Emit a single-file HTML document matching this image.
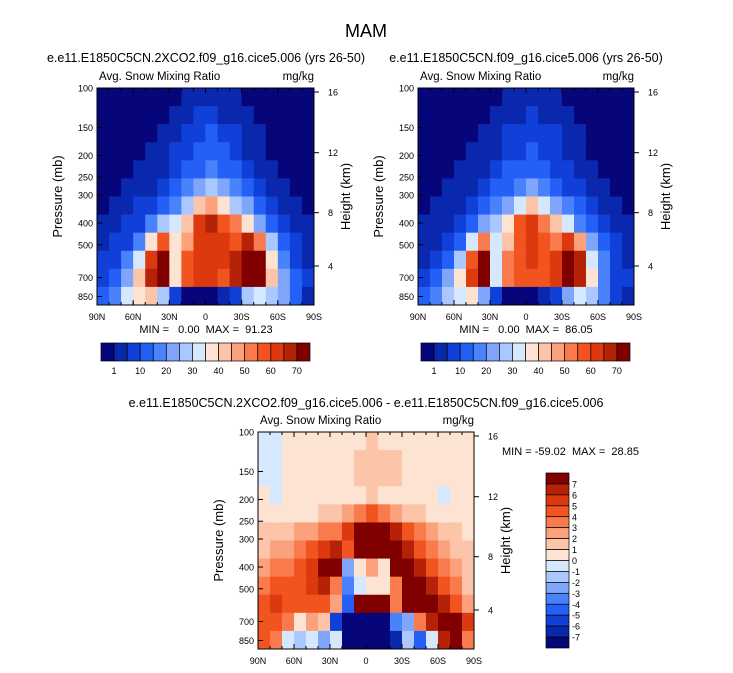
<!DOCTYPE html>
<html><head><meta charset="utf-8">
<style>
html,body{margin:0;padding:0;background:#fff;}
svg{display:block;font-family:"Liberation Sans",Arial,sans-serif;}
.pre{white-space:pre;}
</style></head>
<body>
<svg id="fig" width="733" height="673" viewBox="0 0 733 673" xmlns="http://www.w3.org/2000/svg">
<text x="366" y="37" text-anchor="middle" font-size="18">MAM</text>
<text x="206" y="62" text-anchor="middle" font-size="12.5">e.e11.E1850C5CN.2XCO2.f09_g16.cice5.006 (yrs 26-50)</text>
<text x="526" y="62" text-anchor="middle" font-size="12.5">e.e11.E1850C5CN.f09_g16.cice5.006 (yrs 26-50)</text>
<text x="366" y="407" text-anchor="middle" font-size="12.5">e.e11.E1850C5CN.2XCO2.f09_g16.cice5.006 - e.e11.E1850C5CN.f09_g16.cice5.006</text>
<g id="panels"></g>
</svg>
<script>
// ---- data ----
const latLabels = ["90N","60N","30N","0","30S","60S","90S"];
const pressureTicks = [100,150,200,250,300,400,500,700,850];
const heightTicks = [16,12,8,4];
const heightTickY = [92,152.7,212.7,266];
const topLevels = [1,5,10,15,20,25,30,35,40,45,50,55,60,65,70];
const topLevelLabels = ["1","10","20","30","40","50","60","70"];
const diffLevels = [7,6,5,4,3,2,1,0,-1,-2,-3,-4,-5,-6,-7];
const colors = ["#06067a","#0a28ad","#1040d8","#2460f8","#4a82fb","#7fa6fb","#aac8fd","#d6e8fd","#fde4d2","#fcc4a8","#fba27c","#f97a4c","#f2541f","#dc3a0e","#b52208","#800000"];
const leftData = [
[0.5,0.5,0.5,0.5,0.5,0.5,0.5,1.5,2,2,2,1.5,0.5,0.5,0.5,0.5,0.5,0.5],
[0.5,0.5,0.5,0.5,0.5,0.5,1.5,3,5,5,4,3,1.5,0.5,0.5,0.5,0.5,0.5],
[0.5,0.5,0.5,0.5,0.5,1.5,3,5,7,10,7,5,3,1.5,0.5,0.5,0.5,0.5],
[0.5,0.5,0.5,0.5,1.2,2.5,5,8,10,12,10,7,4,2,0.8,0.5,0.5,0.5],
[0.5,0.5,0.5,1.2,2,4,7,11,14,16,14,10,6,3,1.5,0.8,0.5,0.5],
[0.5,0.8,1.2,2,4,7,12,16,22,25,22,15,10,6,3,1.5,0.8,0.5],
[0.8,1.5,3,5,8,12,18,25,40,45,38,28,20,12,7,3,1.5,0.8],
[1.5,3,5,9,15,25,30,40,60,66,58,50,35,22,12,6,3,1.5],
[3,5,9,16,35,58,38,48,62,64,60,58,66,50,26,13,6,3],
[5,9,15,30,60,75,35,58,62,64,60,68,78,72,38,18,9,4],
[7,12,22,42,68,75,35,58,62,60,58,68,76,72,42,20,10,6],
[12,18,30,38,40,28,8,0.5,0.5,0.5,1,8,28,34,28,20,10,4]];
const rightData = [
[0.5,0.5,0.5,0.5,0.5,0.5,0.5,1.5,2,2,2,1.5,0.5,0.5,0.5,0.5,0.5,0.5],
[0.5,0.5,0.5,0.5,0.5,0.5,1.5,3,4,5,4,3,1.5,0.5,0.5,0.5,0.5,0.5],
[0.5,0.5,0.5,0.5,0.5,1.2,3,5,6,9,7,5,2.5,1.2,0.5,0.5,0.5,0.5],
[0.5,0.5,0.5,0.5,1.2,2.5,4,7,9,11,9,6,3.5,1.8,0.8,0.5,0.5,0.5],
[0.5,0.5,0.5,1.2,2,3.5,6,10,12,14,12,9,5,3,1.5,0.8,0.5,0.5],
[0.5,0.8,1.2,2,3.5,6,10,14,18,22,18,13,8,5,2.5,1.2,0.8,0.5],
[0.8,1.5,2.5,4,7,10,15,22,34,40,32,24,17,10,6,3,1.5,0.8],
[1.5,3,4.5,8,13,22,26,36,55,60,52,44,30,19,10,5,2.5,1.5],
[2.5,4.5,8,14,30,52,34,44,58,60,56,52,60,45,22,11,5,2.5],
[4,8,13,26,55,72,32,52,58,60,56,62,74,68,34,16,8,4],
[6,11,20,38,62,72,32,54,58,56,55,62,72,68,38,18,9,5],
[10,16,27,34,36,24,6,0.5,0.5,0.5,1,6,24,30,25,18,9,4]];
const diffData = [
[-0.5,-0.5,0.5,0.5,0.5,0.5,0.5,0.5,0.5,1.2,0.5,0.5,0.5,0.5,0.5,0.5,0.5,0.5],
[-0.5,-0.5,0.5,0.5,0.5,0.5,0.5,0.5,1.2,1.5,1.3,1.2,0.5,0.5,0.5,0.5,0.5,0.5],
[-0.5,-0.5,0.5,0.5,0.5,0.5,0.5,0.8,1.3,1.5,1.3,1.1,0.5,0.5,0.5,0.5,0.5,0.5],
[0.5,-0.5,0.5,0.5,0.5,0.5,0.5,0.5,0.8,1.1,0.9,0.5,0.5,0.5,0.5,-0.5,0.5,0.5],
[0.7,0.7,0.7,0.7,0.7,1.2,1.5,2,3,4,3,2,1.5,1.2,0.7,0.7,0.7,0.7],
[1.1,1.2,1.5,2,2.5,3,3.5,5,8,8,8,6,4,3,2,1.5,1.1,0.7],
[1.5,2,2.5,3,4,5.5,6,4,8,8,8,8,6,4,3,2,1.5,1],
[2.5,3,3.5,4,5,7,7.5,-3,0.5,2,0.5,8,8,6,4,3,2,1.2],
[3.5,4,4.5,4,5,6,3,-4,-1,0.5,0.5,3,8,8,6,4,3,1.5],
[4,5,4.5,4,4.5,4,2,-5,8,8,8,3,7,8,8,6,4,2.5],
[4,4,3,0.5,2,1,-6,-8,-8,-8,-8,-4,-3,3,6,8,7,5],
[4,3,-1,-2,-1,-3,-1,-8,-8,-8,-8,-7,-2,-5,-1,6,8,3]];

// ---- drawing ----
const NS="http://www.w3.org/2000/svg";
const root=document.getElementById('panels');
function mk(tag,attrs,parent){const e=document.createElementNS(NS,tag);for(const k in attrs)e.setAttribute(k,attrs[k]);(parent||root).appendChild(e);return e;}
function colorTop(v){let k=0;while(k<topLevels.length&&v>=topLevels[k])k++;return colors[k];}
function colorDiff(v){let k=0;while(k<diffLevels.length&&v<diffLevels[k])k++;return colors[15-k];}
function yP(p,oy,h){return oy+Math.log(p/100)/Math.log(928/100)*h;}

function panel(name,ox,oy,w,h,data,colorFn,mmText,mmX,mmY,mmAnchor){
  const g=mk('g',{});
  
  
  const rows=data.length,cols=data[0].length,cw=w/cols,ch=h/rows;
  const field=mk('g',{},g);
  
  
  data.forEach((row,i)=>row.forEach((v,j)=>{
    const r=mk('rect',{x:(ox+j*cw).toFixed(2),y:(oy+i*ch).toFixed(2),width:(cw+0.4).toFixed(2),height:(ch+0.4).toFixed(2),fill:colorFn(v)},field);
    
    
  }));
  const frame=mk('rect',{x:ox,y:oy,width:w,height:h,fill:'none',stroke:'#000','stroke-width':1},g);
  
  
  const st=mk('text',{x:ox+2,y:oy-8,'font-size':11.5},g);st.textContent='Avg. Snow Mixing Ratio';
  
  
  const un=mk('text',{x:ox+w,y:oy-8,'font-size':11.5,'text-anchor':'end'},g);un.textContent='mg/kg';
  
  
  latLabels.forEach((l,k)=>{
    const x=ox+k*w/6;
    mk('line',{x1:x,y1:oy+h,x2:x,y2:oy+h-5,stroke:'#000'},g);
    mk('line',{x1:x,y1:oy,x2:x,y2:oy+5,stroke:'#000'},g);
    const t=mk('text',{x:x,y:oy+h+15,'font-size':9,'text-anchor':'middle'},g);t.textContent=l;
    
    
  });
  for(let k=0;k<18;k++){const x=ox+k*w/18;mk('line',{x1:x,y1:oy+h,x2:x,y2:oy+h-3,stroke:'#000'},g);mk('line',{x1:x,y1:oy,x2:x,y2:oy+3,stroke:'#000'},g);}
  pressureTicks.forEach(p=>{
    const y=yP(p,oy,h);
    mk('line',{x1:ox,y1:y,x2:ox+5,y2:y,stroke:'#000'},g);
    const t=mk('text',{x:ox-4,y:y+3.5,'font-size':9,'text-anchor':'end'},g);t.textContent=p;
    
    
  });
  heightTicks.forEach((hk,k)=>{
    const y=heightTickY[k]-88+oy;
    mk('line',{x1:ox+w,y1:y,x2:ox+w+5,y2:y,stroke:'#000'},g);
    const t=mk('text',{x:ox+w+14,y:y+3.5,'font-size':9},g);t.textContent=hk;
    
    
  });
  const yl=mk('text',{x:0,y:0,'font-size':13,'text-anchor':'middle',transform:`translate(${ox-35},${oy+h/2}) rotate(-90)`},g);yl.textContent='Pressure (mb)';
  
  
  const yr=mk('text',{x:0,y:0,'font-size':13,'text-anchor':'middle',transform:`translate(${ox+w+36},${oy+h/2}) rotate(-90)`},g);yr.textContent='Height (km)';
  
  
  const mm=mk('text',{x:mmX,y:mmY,'font-size':11,'text-anchor':mmAnchor,'class':'pre'},g);mm.textContent=mmText;
  
  
}
function hbar(name,x0,y0,w,h){
  const g=mk('g',{});
  
  
  const bw=w/16;
  colors.forEach((c,k)=>{
    const r=mk('rect',{x:x0+k*bw,y:y0,width:bw,height:h,fill:c,stroke:'#000','stroke-width':0.7},g);
    
    
  });
  topLevelLabels.forEach((l,k)=>{
    const t=mk('text',{x:x0+(1+2*k)*bw,y:y0+h+13,'font-size':9,'text-anchor':'middle'},g);t.textContent=l;
    
    
  });
}
function vbar(name,x0,y0,w,h){
  const g=mk('g',{});
  
  
  const bh=h/16;
  colors.slice().reverse().forEach((c,k)=>{
    const r=mk('rect',{x:x0,y:y0+k*bh,width:w,height:bh,fill:c,stroke:'#000','stroke-width':0.7},g);
    
    
  });
  diffLevels.forEach((l,k)=>{
    const t=mk('text',{x:x0+w+3,y:y0+(k+1)*bh+3.5,'font-size':9},g);t.textContent=l;
    
    
  });
}
panel('left-panel',97,88,217,217,leftData,colorTop,'MIN =   0.00  MAX =  91.23',206,333,'middle');
panel('right-panel',418,88,216,217,rightData,colorTop,'MIN =   0.00  MAX =  86.05',526,333,'middle');
panel('diff-panel',258,432,216,217,diffData,colorDiff,'MIN = -59.02  MAX =  28.85',502,455,'start');
hbar('left-colorbar',101,343,209,18);
hbar('right-colorbar',421,343,209,18);
vbar('diff-colorbar',546,473,23,175);
</script>
</body></html>
